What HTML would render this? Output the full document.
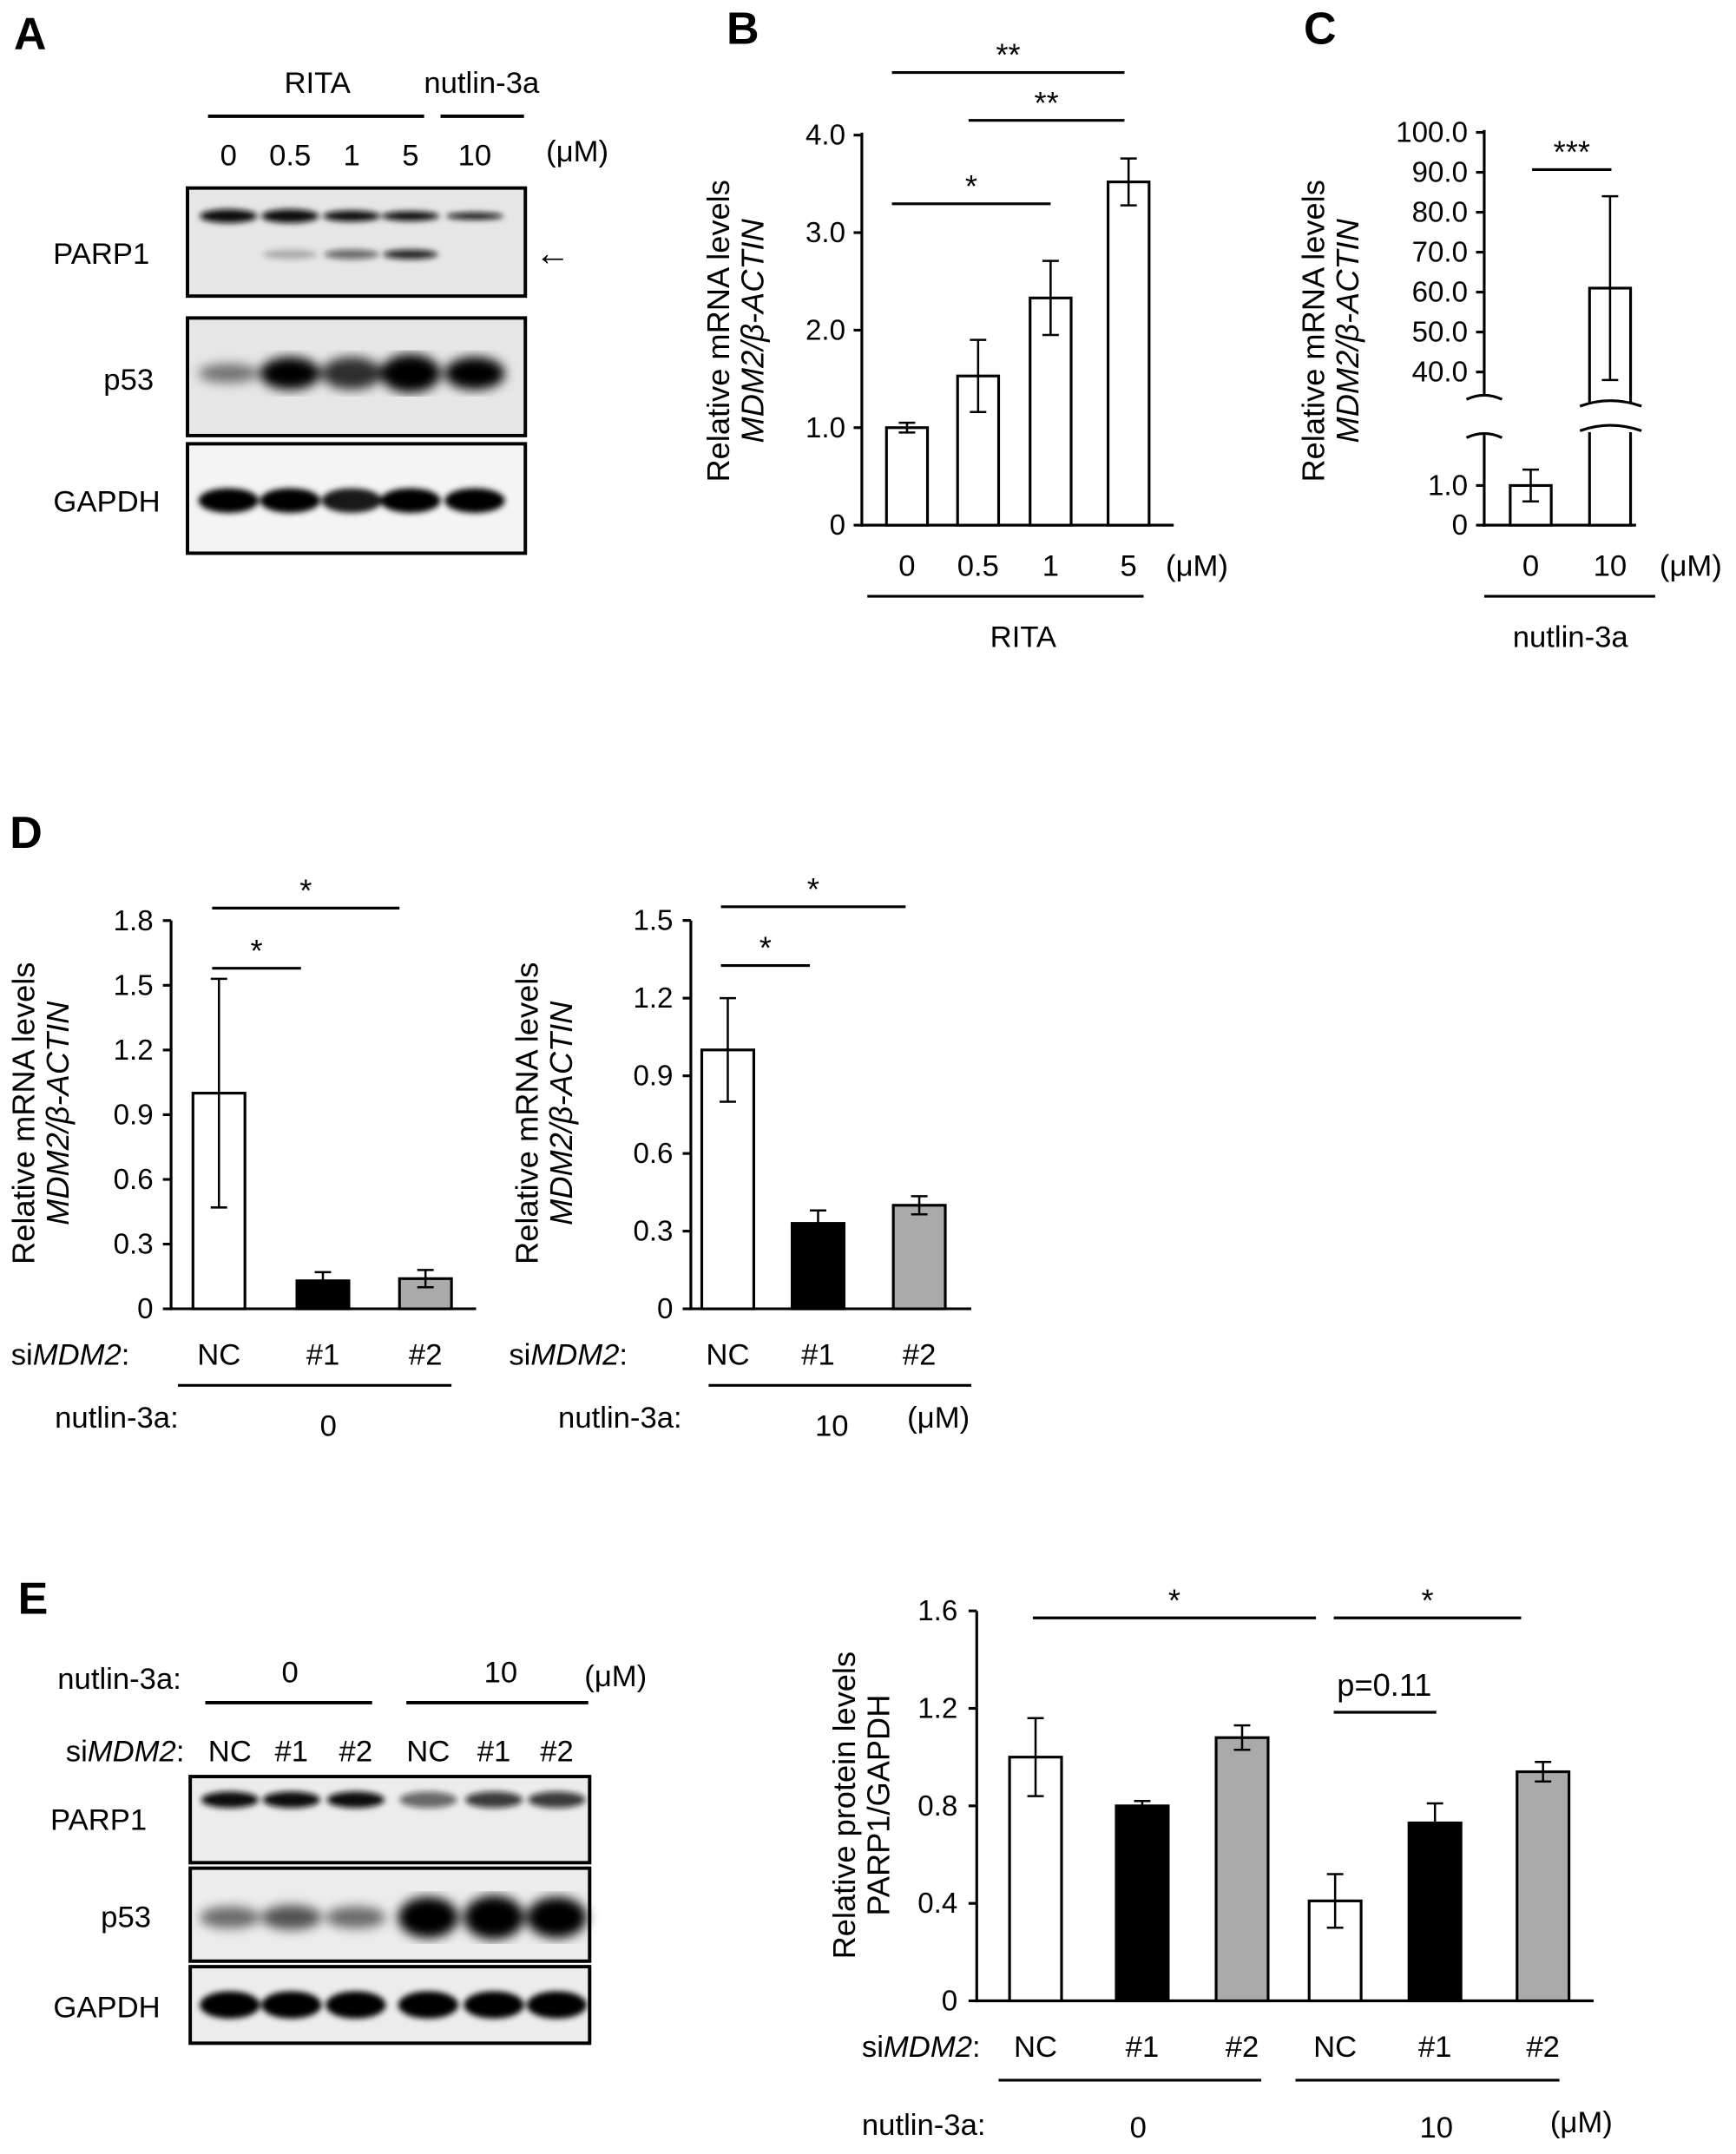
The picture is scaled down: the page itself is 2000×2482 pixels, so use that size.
<!DOCTYPE html>
<html><head><meta charset="utf-8">
<style>
html,body{margin:0;padding:0;background:#fff;}
svg{display:block;font-family:"Liberation Sans",Arial,sans-serif;}
</style></head>
<body>
<svg id="fig" width="2000" height="2482" viewBox="0 0 1269 1575" xmlns="http://www.w3.org/2000/svg">
<defs>
<filter id="blur2"><feGaussianBlur stdDeviation="2.2"/></filter>
<filter id="blur4"><feGaussianBlur stdDeviation="4"/></filter>
</defs>
<g id="root"></g>
</svg>
<script>
// ---------- data ----------
const bCats = ["0","0.5","1","5"];
const bVals = [1.0, 1.53, 2.33, 3.52];
const bErrs = [0.05, 0.37, 0.38, 0.24];
const bTicks = ["0","1.0","2.0","3.0","4.0"];

const cCats = ["0","10"];
const cVals = [1.0, 61];
const cErrs = [0.4, 23];

const dLCats = ["NC","#1","#2"];
const dLVals = [1.0, 0.13, 0.14];
const dLErrs = [0.53, 0.04, 0.04];
const dLTicks = ["0","0.3","0.6","0.9","1.2","1.5","1.8"];

const dRCats = ["NC","#1","#2"];
const dRVals = [1.0, 0.33, 0.40];
const dRErrs = [0.2, 0.05, 0.035];
const dRTicks = ["0","0.3","0.6","0.9","1.2","1.5"];

const eCats = ["NC","#1","#2","NC","#1","#2"];
const eVals = [1.0, 0.80, 1.08, 0.41, 0.73, 0.94];
const eErrs = [0.16, 0.02, 0.05, 0.11, 0.08, 0.04];
const eTicks = ["0","0.4","0.8","1.2","1.6"];

const fills = ["#fff","#000","#aaa"];
// ---------- helpers ----------
const NS="http://www.w3.org/2000/svg";
const root=document.getElementById('root');
const FS=21;
function mk(tag,attrs,parent){const e=document.createElementNS(NS,tag);for(const k in attrs)e.setAttribute(k,attrs[k]);(parent||root).appendChild(e);return e;}
function txt(x,y,s,size,anchor,parent,extra){const t=mk('text',Object.assign({x:x,y:y,'font-size':size||FS,'text-anchor':anchor||'middle',fill:'#000'},extra||{}),parent);t.textContent=s;return t;}
function siLabel(x,y,parent){
  const t=mk('text',{x:x,y:y,'font-size':22,'text-anchor':'start',fill:'#000'},parent);
  const a=mk('tspan',{},t);a.textContent='si';
  const b=mk('tspan',{'font-style':'italic'},t);b.textContent='MDM2';
  const c=mk('tspan',{},t);c.textContent=':';
  return t;
}
function line(x1,y1,x2,y2,w,parent){return mk('line',{x1,y1,x2,y2,stroke:'#000','stroke-width':w||2},parent);}
function ylabel(x,y,l1,l2,parent){
  const g=mk('g',{transform:`translate(${x},${y}) rotate(-90)`},parent);
  txt(0,0,l1,23,'middle',g);
  txt(0,25,l2,23,'middle',g,{'font-style':'italic'});
}
function bars(g,cats,vals,errs,xs,yScale,w,fillFn,name){
  vals.forEach((v,i)=>{
    const y=yScale(v),y0=yScale(0);
    const r=mk('rect',{x:xs[i]-w/2,y:y,width:w,height:y0-y,fill:fillFn(i),stroke:'#000','stroke-width':2},g);
    
    
    const yt=yScale(v+errs[i]),yb=yScale(v-errs[i]);
    const eg=mk('g',{},g);
    
    
    line(xs[i],yt,xs[i],yb,1.6,eg);line(xs[i]-6,yt,xs[i]+6,yt,1.6,eg);line(xs[i]-6,yb,xs[i]+6,yb,1.6,eg);
  });
}
function sig(g,x1,x2,y,label){line(x1,y,x2,y,2,g);txt((x1+x2)/2,y-5,label,23,'middle',g);}

// ---------- Panel A blot ----------
(function(){
  const g=mk('g',{});  
  txt(10,36,'A',33,'start',g,{'font-weight':'bold'});
  txt(232,68,'RITA',22,'middle',g); txt(352,68,'nutlin-3a',22,'middle',g);
  line(152,85,310,85,2.5,g); line(322,85,383,85,2.5,g);
  const lanes=[167,212,257,300,347];
  ['0','0.5','1','5','10'].forEach((s,i)=>txt(lanes[i],121,s,22,'middle',g));
  txt(422,118,'(μM)',22,'middle',g);
  const boxes=[[137,220,'PARP1'],[232,322,'p53'],[324,408,'GAPDH']];
  boxes.forEach(b=>{mk('rect',{x:137,y:b[0]+0.5,width:247,height:b[1]-b[0]-4,fill:b[2]==='GAPDH'?'#f4f4f4':'#e6e6e6',stroke:'#000','stroke-width':2.5},g);});
  const bg=mk('g',{filter:'url(#blur2)'},g);
  [[1,1],[1,1],[0.8,1],[0.7,1],[0.5,1]].forEach((a,i)=>mk('ellipse',{cx:lanes[i],cy:158,rx:21,ry:a[0]*5,fill:'#111'},bg));
  [0,0.25,0.6,0.9,0].forEach((a,i)=>{if(a)mk('ellipse',{cx:lanes[i],cy:186,rx:20,ry:3.5,fill:'#111',opacity:a},bg);});
  const pg=mk('g',{filter:'url(#blur4)'},g);
  [[0.5,7],[1,12],[0.8,12],[1,14],[1,12]].forEach((a,i)=>mk('ellipse',{cx:lanes[i],cy:273,rx:22,ry:a[1],fill:'#000',opacity:a[0]},pg));
  [1,1,0.9,1,1].forEach((a,i)=>mk('ellipse',{cx:lanes[i],cy:366,rx:22,ry:9,fill:'#000',opacity:a},bg));
  txt(74,193,'PARP1',22,'middle',g); txt(94,285,'p53',22,'middle',g); txt(78,374,'GAPDH',22,'middle',g);
  txt(404,194,'←',26,'middle',g);
})();

// ---------- Panel B ----------
(function(){
  const g=mk('g',{});  
  txt(543,32,'B',33,'middle',g,{'font-weight':'bold'});
  const y=v=>384-v*71.3; const xs=[663,715,768,825];
  line(630,97,630,385,2,g); line(629,384,858,384,2,g);
  bTicks.forEach((t,i)=>{line(624,y(i),630,y(i),2,g);txt(618,y(i)+7,t,FS,'end',g);});
  ylabel(533,242,'Relative mRNA levels','MDM2/β-ACTIN',g);
  bars(g,bCats,bVals,bErrs,xs,y,30,()=>'#fff','b');
  bCats.forEach((c,i)=>txt(xs[i],421,c,22,'middle',g));
  txt(875,421,'(μM)',22,'middle',g);
  line(634,436,836,436,2,g); txt(748,473,'RITA',22,'middle',g);
  sig(g,652,768,149,'*'); sig(g,708,822,88,'**'); sig(g,652,822,53,'**');
})();

// ---------- Panel C ----------
(function(){
  const g=mk('g',{});  
  txt(965,32,'C',33,'middle',g,{'font-weight':'bold'});
  const yT=v=>272-(v-40)*2.92; const yB=v=>384-v*29;
  const y=v=>v<=1.5?yB(v):yT(v);
  line(1085,95,1085,290,2,g); line(1085,318,1085,385,2,g); line(1084,384,1196,384,2,g);
  ['40.0','50.0','60.0','70.0','80.0','90.0','100.0'].forEach((t,i)=>{const yy=yT(40+i*10);line(1079,yy,1085,yy,2,g);txt(1073,yy+7,t,FS,'end',g);});
  [['0',0],['1.0',1]].forEach(a=>{const yy=yB(a[1]);line(1079,yy,1085,yy,2,g);txt(1073,yy+7,a[0],FS,'end',g);});
  mk('path',{d:'M1072,292 q13,-6 26,0 M1072,320 q13,-6 26,0',fill:'none',stroke:'#000','stroke-width':2},g);
  ylabel(968,242,'Relative mRNA levels','MDM2/β-ACTIN',g);
  const xs=[1119,1177];
  cVals.forEach((v,i)=>{
    const r=mk('rect',{x:xs[i]-15,y:y(v),width:30,height:384-y(v),fill:'#fff',stroke:'#000','stroke-width':2},g);
     
    const yt=y(v+cErrs[i]),yb=y(v-cErrs[i]);
    line(xs[i],yt,xs[i],yb,1.6,g);line(xs[i]-6,yt,xs[i]+6,yt,1.6,g);line(xs[i]-6,yb,xs[i]+6,yb,1.6,g);
  });
  mk('rect',{x:1155,y:294,width:45,height:22,fill:'#fff'},g);
  mk('path',{d:'M1155,297 q22,-8 45,0 M1155,315 q22,-8 45,0',fill:'none',stroke:'#000','stroke-width':2},g);
  cCats.forEach((c,i)=>txt(xs[i],421,c,22,'middle',g));
  txt(1236,421,'(μM)',22,'middle',g);
  line(1085,436,1210,436,2,g); txt(1148,473,'nutlin-3a',22,'middle',g);
  sig(g,1120,1178,124,'***');
})();

// ---------- Panel D left ----------
(function(){
  const g=mk('g',{});  
  txt(19,620,'D',33,'middle',g,{'font-weight':'bold'});
  const y=v=>957-v*157.7; const xs=[160,236,311];
  line(125,673,125,958,2,g); line(124,957,348,957,2,g);
  dLTicks.forEach((t,i)=>{const yy=y(i*0.3);line(119,yy,125,yy,2,g);txt(112,yy+7,t,FS,'end',g);});
  ylabel(25,814,'Relative mRNA levels','MDM2/β-ACTIN',g);
  bars(g,dLCats,dLVals,dLErrs,xs,y,38,i=>fills[i],'dl');
  siLabel(8,998,g);
  dLCats.forEach((c,i)=>txt(xs[i],998,c,22,'middle',g));
  line(130,1013,330,1013,2,g);
  txt(40,1044,'nutlin-3a:',22,'start',g); txt(240,1050,'0',22,'middle',g);
  sig(g,155,220,708,'*'); sig(g,155,292,664,'*');
})();

// ---------- Panel D right ----------
(function(){
  const g=mk('g',{});  
  const y=v=>957-v*189.3; const xs=[532,598,672];
  line(505,673,505,958,2,g); line(504,957,710,957,2,g);
  dRTicks.forEach((t,i)=>{const yy=y(i*0.3);line(499,yy,505,yy,2,g);txt(492,yy+7,t,FS,'end',g);});
  ylabel(393,814,'Relative mRNA levels','MDM2/β-ACTIN',g);
  bars(g,dRCats,dRVals,dRErrs,xs,y,38,i=>fills[i],'dr');
  siLabel(372,998,g);
  dRCats.forEach((c,i)=>txt(xs[i],998,c,22,'middle',g));
  line(518,1013,710,1013,2,g);
  txt(408,1044,'nutlin-3a:',22,'start',g); txt(608,1050,'10',22,'middle',g); txt(686,1044,'(μM)',22,'middle',g);
  sig(g,527,592,706,'*'); sig(g,527,662,663,'*');
})();

// ---------- Panel E blot ----------
(function(){
  const g=mk('g',{});  
  txt(24,1180,'E',33,'middle',g,{'font-weight':'bold'});
  txt(42,1235,'nutlin-3a:',22,'start',g); txt(212,1230,'0',22,'middle',g); txt(366,1230,'10',22,'middle',g); txt(450,1233,'(μM)',22,'middle',g);
  line(150,1245,272,1245,2.5,g); line(297,1245,430,1245,2.5,g);
  const lanes=[168,213,260,313,361,407];
  siLabel(48,1288,g);
  ['NC','#1','#2','NC','#1','#2'].forEach((s,i)=>txt(lanes[i],1288,s,22,'middle',g));
  [[1299,1362],[1366,1434],[1438,1494]].forEach(b=>mk('rect',{x:139,y:b[0],width:292,height:b[1]-b[0],fill:'#ececec',stroke:'#000','stroke-width':2.5},g));
  const bg=mk('g',{filter:'url(#blur2)'},g);
  [1,1,1,0.6,0.8,0.8].forEach((a,i)=>mk('ellipse',{cx:lanes[i],cy:1316,rx:21,ry:6,fill:'#111',opacity:a},bg));
  [1,1,1,1,1,1].forEach((a,i)=>mk('ellipse',{cx:lanes[i],cy:1466,rx:22,ry:10,fill:'#000'},bg));
  const pg=mk('g',{filter:'url(#blur4)'},g);
  [[0.55,8],[0.65,9],[0.55,8],[1,15],[1,16],[1,15]].forEach((a,i)=>mk('ellipse',{cx:lanes[i],cy:1402,rx:22,ry:a[1],fill:'#000',opacity:a[0]},pg));
  txt(72,1338,'PARP1',22,'middle',g); txt(92,1409,'p53',22,'middle',g); txt(78,1475,'GAPDH',22,'middle',g);
})();

// ---------- Panel E chart ----------
(function(){
  const g=mk('g',{});  
  const y=v=>1463-v*178.2; const xs=[757,835,908,976,1049,1128];
  line(714,1178,714,1464,2,g); line(713,1463,1165,1463,2,g);
  eTicks.forEach((t,i)=>{const yy=y(i*0.4);line(708,yy,714,yy,2,g);txt(700,yy+7,t,FS,'end',g);});
  const yl=mk('g',{transform:'translate(625,1320) rotate(-90)'},g);
  txt(0,0,'Relative protein levels',23,'middle',yl); txt(0,25,'PARP1/GAPDH',23,'middle',yl);
  bars(g,eCats,eVals,eErrs,xs,y,38,i=>fills[i%3],'e');
  siLabel(630,1504,g);
  eCats.forEach((c,i)=>txt(xs[i],1504,c,22,'middle',g));
  line(730,1521,922,1521,2,g); line(947,1521,1140,1521,2,g);
  txt(630,1561,'nutlin-3a:',22,'start',g); txt(832,1563,'0',22,'middle',g); txt(1050,1563,'10',22,'middle',g); txt(1156,1559,'(μM)',22,'middle',g);
  sig(g,755,962,1183,'*'); sig(g,975,1112,1183,'*');
  line(975,1252,1050,1252,2,g); txt(1012,1240,'p=0.11',23,'middle',g);
})();
</script>
</body></html>
